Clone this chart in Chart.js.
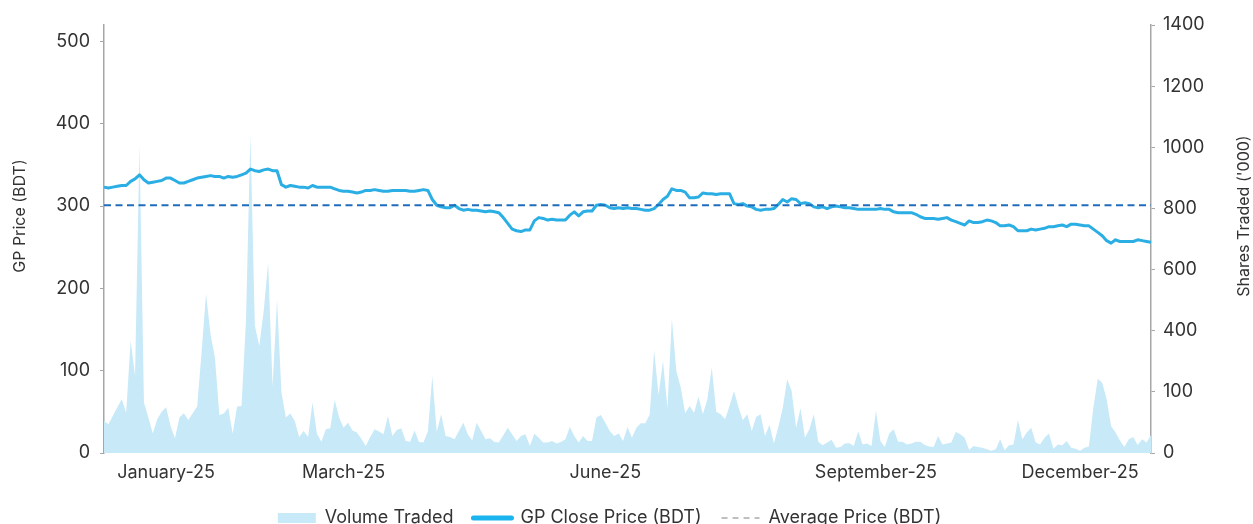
<!DOCTYPE html>
<html>
<head>
<meta charset="utf-8">
<title>GP close price and volume traded</title>
<script src="https://cdn.jsdelivr.net/npm/chart.js@4.4.1/dist/chart.umd.min.js"></script>
<style>
  html, body { margin: 0; padding: 0; background: #fff; overflow: hidden; }
  #wrap { position: relative; width: 1253px; height: 537px; }
</style>
</head>
<body>
<div id="wrap"><canvas id="gpChart"></canvas></div>
<script>
// daily volume traded ('000 shares), one value per trading day
const volumeTraded = [
  105, 94, 122, 150, 176, 132, 367, 252, 1010, 165, 116, 64, 110, 135, 150, 88, 48, 116, 130, 108,
  130, 152, 330, 520, 389, 312, 124, 129, 148, 63, 152, 154, 432, 1040, 416, 350, 465, 623, 217, 500,
  198, 116, 129, 105, 52, 72, 52, 165, 63, 37, 78, 81, 173, 116, 83, 99, 74, 67, 47, 23,
  52, 78, 70, 61, 121, 56, 75, 81, 39, 37, 74, 36, 34, 70, 252, 69, 127, 56, 52, 45,
  72, 99, 61, 41, 99, 72, 45, 48, 36, 34, 58, 83, 61, 39, 56, 61, 23, 63, 50, 34,
  34, 39, 31, 36, 45, 85, 56, 34, 56, 39, 39, 116, 124, 99, 72, 56, 64, 39, 85,
  50, 83, 97, 97, 125, 336, 190, 301, 146, 440, 269, 214, 130, 154, 132, 183, 127, 176, 280, 135,
  127, 110, 154, 203, 151, 107, 127, 72, 118, 127, 56, 92, 31, 85, 148, 241, 203, 83, 146, 50,
  78, 127, 37, 25, 34, 43, 17, 20, 31, 32, 23, 70, 28, 31, 23, 138, 39, 20, 64, 78,
  37, 37, 28, 31, 37, 37, 26, 21, 20, 56, 28, 31, 34, 69, 61, 50, 10, 23, 20,
  17, 12, 7, 12, 45, 9, 25, 28, 108, 45, 67, 83, 34, 28, 50, 64, 14, 28, 25, 39,
  17, 14, 7, 17, 21, 148, 243, 230, 176, 88, 67, 41, 20, 45, 52, 26, 45, 34, 59
];

// daily GP close price (BDT)
const closePrice = [
  323, 322, 323, 324, 325, 325, 330, 333, 338, 332, 328, 329, 330, 331, 334, 334, 331, 328, 328, 330,
  332, 334, 335, 336, 337, 336, 336, 334, 336, 335, 336, 338, 340, 345, 343, 342, 344, 345, 343, 343,
  326, 323, 325, 324, 323, 323, 322, 325, 323, 323, 323, 323, 321, 319, 318, 318, 317, 316, 317, 319,
  319, 320, 319, 318, 318, 319, 319, 319, 319, 318, 318, 319, 320, 319, 308, 301, 299, 298, 298, 301,
  297, 295, 296, 295, 295, 294, 293, 294, 293, 292, 286, 279, 272, 270, 269, 271, 271, 282, 286, 285,
  283, 284, 283, 283, 283, 289, 293, 288, 293, 294, 294, 301, 302, 301, 298, 297, 298, 297, 298,
  297, 297, 296, 295, 295, 297, 302, 308, 312, 321, 319, 319, 317, 310, 310, 311, 316, 315, 315, 314,
  315, 315, 315, 303, 302, 303, 300, 299, 296, 295, 296, 296, 297, 302, 308, 305, 309, 308, 303, 304,
  303, 299, 298, 299, 297, 299, 300, 299, 298, 298, 297, 296, 296, 296, 296, 296, 297, 296, 296, 293,
  292, 292, 292, 292, 290, 287, 285, 285, 285, 284, 285, 286, 283, 281, 279, 277, 282, 280, 280,
  281, 283, 282, 280, 276, 276, 277, 275, 270, 270, 270, 272, 271, 272, 273, 275, 275, 276, 277, 275,
  278, 278, 277, 276, 276, 272, 268, 264, 258, 255, 259, 257, 257, 257, 257, 259, 258, 257, 256
];

const averagePrice = 301;

// month labels and the trading-day index they sit on
const monthLabels = ['January-25', 'March-25', 'June-25', 'September-25', 'December-25'];
const monthIdx = [14, 54, 113, 174, 220];

// tick labels as printed on the two value axes
const priceTicks = ['0', '100', '200', '300', '400', '500'];
const volumeTicks = ['0', '100', '400', '600', '800', '1000', '1200', '1400'];

const days = volumeTraded.map((_, i) => {
  const k = monthIdx.indexOf(i);
  return k >= 0 ? monthLabels[k] : '';
});

const FONT = 'Inter, "Noto Sans", sans-serif';
const TEXT = '#333333';
const AXIS = '#a6a6a6';
const VOL_FILL = '#c8e9f8';
const PRICE_LINE = '#2aaee4';
const AVG_LINE = '#1f6dba';

Chart.defaults.font.family = FONT;
Chart.defaults.color = TEXT;

// axis titles sit a bit above the plot's middle and both read bottom-to-top
const axisTitles = {
  id: 'axisTitles',
  afterDraw(chart) {
    const { ctx, chartArea } = chart;
    const cy = (chartArea.top + chartArea.bottom) / 2 - 23;
    const items = [[20, 'GP Price (BDT)'], [chart.width - 8.5, "Shares Traded ('000)"]];
    ctx.save();
    ctx.font = '16px ' + FONT;
    ctx.fillStyle = TEXT;
    ctx.textAlign = 'center';
    ctx.textBaseline = 'middle';
    items.forEach(([x, text]) => {
      ctx.save();
      ctx.translate(x, cy);
      ctx.rotate(-Math.PI / 2);
      ctx.fillText(text, 0, 0);
      ctx.restore();
    });
    ctx.restore();
  }
};

// legend row is centred a little left of the page centre
const legendShift = {
  id: 'legendShift',
  afterLayout(chart) {
    if (chart.legend) chart.legend.left -= 34;
  }
};

new Chart(document.getElementById('gpChart'), {
  type: 'line',
  plugins: [axisTitles, legendShift],
  data: {
    labels: days,
    datasets: [
      {
        label: 'Volume Traded',
        data: volumeTraded,
        yAxisID: 'yVol',
        fill: 'origin',
        backgroundColor: VOL_FILL,
        borderWidth: 0,
        pointRadius: 0,
        order: 3
      },
      {
        label: 'GP Close Price (BDT)',
        data: closePrice,
        yAxisID: 'yPrice',
        borderColor: PRICE_LINE,
        borderWidth: 3,
        borderJoinStyle: 'round',
        pointRadius: 0,
        fill: false,
        order: 2
      },
      {
        label: 'Average Price (BDT)',
        data: days.map(() => averagePrice),
        yAxisID: 'yPrice',
        borderColor: AVG_LINE,
        borderWidth: 2,
        borderDash: [7, 4.5],
        pointRadius: 0,
        fill: false,
        order: 1
      }
    ]
  },
  options: {
    responsive: true,
    maintainAspectRatio: false,
    animation: false,
    layout: { padding: { top: 25, left: 0, right: 0, bottom: 0 } },
    plugins: {
      tooltip: { enabled: false },
      legend: {
        position: 'bottom',
        labels: {
          usePointStyle: true,
          pointStyleWidth: 38,
          boxHeight: 10,
          padding: 20,
          color: TEXT,
          font: { size: 18 },
          generateLabels: (chart) => chart.data.datasets.map((ds, i) => {
            const item = { text: ds.label, datasetIndex: i, hidden: false, fontColor: TEXT };
            if (i === 0) {
              return { ...item, pointStyle: 'rect', fillStyle: VOL_FILL, strokeStyle: VOL_FILL, lineWidth: 0 };
            }
            if (i === 1) {
              return { ...item, pointStyle: 'line', fillStyle: '#1cb4ee', strokeStyle: '#1cb4ee', lineWidth: 5, lineCap: 'round' };
            }
            return { ...item, pointStyle: 'line', fillStyle: '#aaaaaa', strokeStyle: '#aaaaaa', lineWidth: 1.5, lineDash: [6, 5] };
          })
        }
      }
    },
    scales: {
      x: {
        grid: { display: false, drawTicks: false },
        border: { display: false },
        ticks: { autoSkip: false, maxRotation: 0, minRotation: 0, padding: 9, font: { size: 18 } },
        afterBuildTicks: (ax) => { ax.ticks = monthIdx.map(v => ({ value: v })); },
        afterFit: (ax) => { ax.height = 36; }
      },
      yPrice: {
        position: 'left',
        min: 0,
        max: 520,
        ticks: {
          stepSize: 100,
          includeBounds: false,
          padding: 10,
          font: { size: 18 },
          callback: (v, i) => priceTicks[i]
        },
        grid: { drawOnChartArea: false, tickLength: 4, color: AXIS },
        border: { color: AXIS, width: 1.5 },
        afterFit: (ax) => { ax.width = 104; }
      },
      yVol: {
        position: 'right',
        min: 0,
        max: 1400,
        ticks: {
          stepSize: 200,
          padding: 8,
          font: { size: 18 },
          callback: (v, i) => volumeTicks[i]
        },
        grid: { drawOnChartArea: false, tickLength: 4, color: AXIS },
        border: { color: AXIS, width: 1.5 },
        afterFit: (ax) => { ax.width = 102; }
      }
    }
  }
});
</script>
</body>
</html>
